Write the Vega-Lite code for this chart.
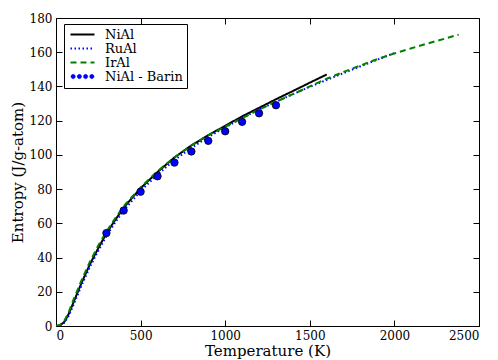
{
  "$schema": "https://vega.github.io/schema/vega-lite/v6.json",
  "width": 423,
  "height": 308,
  "autosize": "none",
  "padding": {"left": 56, "top": 18, "right": 19, "bottom": 34},
  "background": "white",
  "config": {
    "view": {"stroke": "black", "strokeWidth": 1},
    "font": "DejaVu Serif",
    "axis": {"grid": false, "domain": false, "ticks": true, "tickColor": "black", "tickSize": -6, "tickWidth": 1, "labelFont": "DejaVu Serif", "labelFontSize": 12, "labelColor": "black", "titleFont": "DejaVu Serif", "titleFontSize": 15, "titleFontWeight": "normal", "titleColor": "black", "labelPadding": 10}
  },
  "datasets": {
    "lines": [
      {"T": 0, "S": 0, "series": "NiAl"}, {"T": 25, "S": 0.4, "series": "NiAl"}, {"T": 50, "S": 2.5, "series": "NiAl"}, {"T": 75, "S": 7, "series": "NiAl"}, {"T": 100, "S": 13, "series": "NiAl"}, {"T": 125, "S": 19, "series": "NiAl"}, {"T": 150, "S": 25, "series": "NiAl"}, {"T": 175, "S": 30.5, "series": "NiAl"}, {"T": 200, "S": 36, "series": "NiAl"}, {"T": 250, "S": 45.5, "series": "NiAl"}, {"T": 300, "S": 54.5, "series": "NiAl"}, {"T": 350, "S": 62, "series": "NiAl"}, {"T": 400, "S": 69, "series": "NiAl"}, {"T": 450, "S": 75, "series": "NiAl"}, {"T": 500, "S": 80.5, "series": "NiAl"}, {"T": 600, "S": 90, "series": "NiAl"}, {"T": 700, "S": 98.5, "series": "NiAl"}, {"T": 800, "S": 105.5, "series": "NiAl"}, {"T": 900, "S": 111.5, "series": "NiAl"}, {"T": 1000, "S": 117, "series": "NiAl"}, {"T": 1100, "S": 122.5, "series": "NiAl"}, {"T": 1200, "S": 127.5, "series": "NiAl"}, {"T": 1300, "S": 132.5, "series": "NiAl"}, {"T": 1400, "S": 137.3, "series": "NiAl"}, {"T": 1500, "S": 142.2, "series": "NiAl"}, {"T": 1600, "S": 147, "series": "NiAl"},
      {"T": 0, "S": 0, "series": "RuAl"}, {"T": 25, "S": 0.3, "series": "RuAl"}, {"T": 50, "S": 2, "series": "RuAl"}, {"T": 75, "S": 6, "series": "RuAl"}, {"T": 100, "S": 11.5, "series": "RuAl"}, {"T": 125, "S": 17.5, "series": "RuAl"}, {"T": 150, "S": 23.5, "series": "RuAl"}, {"T": 200, "S": 34.5, "series": "RuAl"}, {"T": 250, "S": 44, "series": "RuAl"}, {"T": 300, "S": 53, "series": "RuAl"}, {"T": 350, "S": 60.5, "series": "RuAl"}, {"T": 400, "S": 67.5, "series": "RuAl"}, {"T": 500, "S": 79, "series": "RuAl"}, {"T": 600, "S": 88.5, "series": "RuAl"}, {"T": 700, "S": 97, "series": "RuAl"}, {"T": 800, "S": 104, "series": "RuAl"}, {"T": 900, "S": 110.5, "series": "RuAl"}, {"T": 1000, "S": 116, "series": "RuAl"}, {"T": 1100, "S": 121.5, "series": "RuAl"}, {"T": 1200, "S": 126.5, "series": "RuAl"}, {"T": 1300, "S": 131, "series": "RuAl"}, {"T": 1400, "S": 135.5, "series": "RuAl"}, {"T": 1500, "S": 139.8, "series": "RuAl"}, {"T": 1600, "S": 143.8, "series": "RuAl"}, {"T": 1700, "S": 147.8, "series": "RuAl"}, {"T": 1800, "S": 151.8, "series": "RuAl"}, {"T": 1900, "S": 155.7, "series": "RuAl"}, {"T": 2000, "S": 159.5, "series": "RuAl"},
      {"T": 0, "S": 0, "series": "IrAl"}, {"T": 25, "S": 0.6, "series": "IrAl"}, {"T": 50, "S": 3.2, "series": "IrAl"}, {"T": 75, "S": 8, "series": "IrAl"}, {"T": 100, "S": 14.5, "series": "IrAl"}, {"T": 125, "S": 20.5, "series": "IrAl"}, {"T": 150, "S": 26.5, "series": "IrAl"}, {"T": 200, "S": 37.5, "series": "IrAl"}, {"T": 250, "S": 47, "series": "IrAl"}, {"T": 300, "S": 55.5, "series": "IrAl"}, {"T": 350, "S": 63, "series": "IrAl"}, {"T": 400, "S": 70, "series": "IrAl"}, {"T": 500, "S": 81, "series": "IrAl"}, {"T": 600, "S": 90.5, "series": "IrAl"}, {"T": 700, "S": 98.5, "series": "IrAl"}, {"T": 800, "S": 105.5, "series": "IrAl"}, {"T": 900, "S": 111.5, "series": "IrAl"}, {"T": 1000, "S": 116.5, "series": "IrAl"}, {"T": 1100, "S": 121.5, "series": "IrAl"}, {"T": 1200, "S": 126.5, "series": "IrAl"}, {"T": 1300, "S": 131, "series": "IrAl"}, {"T": 1400, "S": 135.5, "series": "IrAl"}, {"T": 1500, "S": 140, "series": "IrAl"}, {"T": 1600, "S": 144.5, "series": "IrAl"}, {"T": 1700, "S": 148.5, "series": "IrAl"}, {"T": 1800, "S": 152.3, "series": "IrAl"}, {"T": 1900, "S": 156, "series": "IrAl"}, {"T": 2000, "S": 159.3, "series": "IrAl"}, {"T": 2100, "S": 162.3, "series": "IrAl"}, {"T": 2200, "S": 165.2, "series": "IrAl"}, {"T": 2300, "S": 168, "series": "IrAl"}, {"T": 2380, "S": 170.3, "series": "IrAl"}
    ],
    "barin": [
      {"T": 298, "S": 54.3}, {"T": 400, "S": 67.5}, {"T": 500, "S": 78.5}, {"T": 600, "S": 87.5}, {"T": 700, "S": 95.5}, {"T": 800, "S": 102}, {"T": 900, "S": 108.2}, {"T": 1000, "S": 113.8}, {"T": 1100, "S": 119.3}, {"T": 1200, "S": 124.3}, {"T": 1300, "S": 129}
    ]
  },
  "resolve": {"scale": {"x": "independent", "y": "independent"}, "axis": {"x": "independent", "y": "independent"}},
  "layer": [
    {
      "data": {"name": "lines"},
      "mark": {"type": "line", "strokeWidth": 2, "clip": true},
      "encoding": {
        "x": {"field": "T", "type": "quantitative", "scale": {"domain": [0, 2500], "nice": false}, "axis": {"orient": "bottom", "tickSize": -6, "title": "Temperature (K)", "values": [0, 500, 1000, 1500, 2000, 2500], "format": "d", "titlePadding": 2}},
        "y": {"field": "S", "type": "quantitative", "scale": {"domain": [0, 180], "nice": false}, "axis": {"orient": "left", "tickSize": -6, "title": "Entropy (J/g-atom)", "values": [0, 20, 40, 60, 80, 100, 120, 140, 160, 180], "titlePadding": 4}},
        "color": {"field": "series", "type": "nominal", "scale": {"domain": ["NiAl", "RuAl", "IrAl", "NiAl - Barin"], "range": ["#000000", "#0000ff", "#008000", "#0000ff"]},
          "legend": {"title": null, "orient": "none", "legendX": 8, "legendY": 6, "symbolType": "stroke", "symbolSize": 576, "symbolStrokeWidth": 2, "symbolOffset": 8, "labelFont": "DejaVu Serif", "labelFontSize": 13, "labelColor": "black", "labelOffset": 16, "strokeColor": "black", "fillColor": "white", "padding": 4, "rowPadding": 0, "cornerRadius": 0,
            "encode": {"symbols": {"update": {
              "shape": {"signal": "datum.value === 'NiAl - Barin' ? 'M-0.6,0A0.18,0.18 0 1,1 -0.96,0A0.18,0.18 0 1,1 -0.6,0Z M-0.08,0A0.18,0.18 0 1,1 -0.44,0A0.18,0.18 0 1,1 -0.08,0Z M0.44,0A0.18,0.18 0 1,1 0.08,0A0.18,0.18 0 1,1 0.44,0Z M0.96,0A0.18,0.18 0 1,1 0.6,0A0.18,0.18 0 1,1 0.96,0Z' : 'stroke'"},
              "fill": {"signal": "datum.value === 'NiAl - Barin' ? '#0000ff' : 'transparent'"},
              "stroke": {"signal": "datum.value === 'NiAl - Barin' ? '#000000' : datum.value === 'NiAl' ? '#000000' : datum.value === 'RuAl' ? '#0000ff' : '#008000'"},
              "strokeWidth": {"signal": "datum.value === 'NiAl - Barin' ? 0.5 : 2"},
              "strokeDash": {"signal": "datum.value === 'RuAl' ? [1.5, 2.5] : datum.value === 'IrAl' ? [6, 4] : [1, 0]"}
            }}}
          }},
        "strokeDash": {"field": "series", "type": "nominal", "scale": {"domain": ["NiAl", "RuAl", "IrAl"], "range": [[1, 0], [1.5, 2.5], [6, 4]]}, "legend": null}
      }
    },
    {
      "data": {"name": "barin"},
      "mark": {"type": "point", "filled": true, "fill": "#0000ff", "stroke": "#000000", "strokeWidth": 0.8, "size": 55, "opacity": 1},
      "encoding": {
        "x": {"field": "T", "type": "quantitative", "scale": {"domain": [0, 2500], "nice": false}, "axis": {"orient": "top", "tickSize": -6, "labels": false, "title": null, "values": [0, 500, 1000, 1500, 2000, 2500]}},
        "y": {"field": "S", "type": "quantitative", "scale": {"domain": [0, 180], "nice": false}, "axis": {"orient": "right", "tickSize": -6, "labels": false, "title": null, "values": [0, 20, 40, 60, 80, 100, 120, 140, 160, 180]}}
      }
    }
  ]
}
